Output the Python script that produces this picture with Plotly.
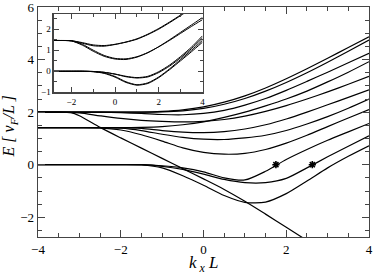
import plotly.graph_objects as go

# ---------------- main panel data ----------------
K = [-4, -3.5, -3, -2.5, -2, -1.5, -1, -0.5, 0, 0.5, 1, 1.5, 2, 2.5, 3, 3.5, 4]

a1 = [0, 0, 0, 0, 0, 0, -0.04, -0.12, -0.27, -0.50, -0.58, -0.25, 0.20, 0.58, 0.93, 1.25, 1.57]
a2 = [0, 0, 0, 0, 0, 0, -0.06, -0.18, -0.36, -0.56, -0.68, -0.68, -0.52, -0.12, 0.30, 0.70, 1.10]
a3 = [0, 0, 0, 0, 0, -0.01, -0.12, -0.42, -0.78, -1.17, -1.43, -1.42, -1.10, -0.62, -0.12, 0.32, 0.72]
b1 = [1.41, 1.41, 1.41, 1.40, 1.32, 1.14, 0.90, 0.64, 0.47, 0.40, 0.43, 0.58, 0.82, 1.12, 1.45, 1.78, 2.10]
b2 = [1.41, 1.41, 1.41, 1.41, 1.39, 1.30, 1.16, 1.04, 0.97, 0.96, 1.02, 1.12, 1.30, 1.55, 1.83, 2.15, 2.50]
b3 = [1.41, 1.41, 1.41, 1.41, 1.41, 1.38, 1.30, 1.24, 1.22, 1.26, 1.36, 1.52, 1.74, 2.00, 2.28, 2.56, 2.85]
b4 = [1.41, 1.41, 1.41, 1.41, 1.41, 1.42, 1.45, 1.52, 1.63, 1.80, 2.00, 2.24, 2.50, 2.80, 3.15, 3.52, 3.92]
c1 = [2.00, 2.00, 1.97, 1.86, 1.76, 1.69, 1.65, 1.63, 1.65, 1.72, 1.85, 2.03, 2.25, 2.50, 2.77, 3.06, 3.36]
c2 = [2.00, 2.00, 2.00, 2.00, 1.98, 1.95, 1.91, 1.90, 1.95, 2.07, 2.27, 2.52, 2.83, 3.17, 3.52, 3.88, 4.24]
c3 = [2.00, 2.00, 2.00, 2.00, 2.00, 2.00, 2.01, 2.05, 2.14, 2.30, 2.52, 2.80, 3.13, 3.50, 3.90, 4.32, 4.74]
c4 = [2.00, 2.00, 2.00, 2.00, 2.00, 2.00, 2.03, 2.09, 2.20, 2.38, 2.62, 2.92, 3.27, 3.65, 4.05, 4.46, 4.87]

edge_k = [-4, -3.5, -3.2, -3, -2.5, -2, -1.5, -1, -0.5, 0, 0.5, 1, 1.5, 2, 2.5]
edge_E = [2.00, 2.00, 1.98, 1.86, 1.42, 1.02, 0.63, 0.24, -0.15, -0.54, -0.94, -1.39, -1.88, -2.38, -2.88]

star_k = [1.75, 2.63]
star_E = [0.0, 0.0]

# ---------------- inset data ----------------
IK = [-2.8, -2.5, -2, -1.5, -1, -0.5, 0, 0.5, 1, 1.5, 2, 2.5, 3, 3.5, 4]
i1a = [1.46, 1.46, 1.45, 1.33, 1.21, 1.19, 1.27, 1.38, 1.52, 1.74, 2.00, 2.31, 2.64, 2.98, 3.30]
i1b = [1.46, 1.46, 1.45, 1.36, 1.25, 1.22, 1.28, 1.39, 1.54, 1.76, 2.03, 2.34, 2.67, 3.00, 3.33]
i2a = [1.46, 1.46, 1.44, 1.24, 0.95, 0.71, 0.58, 0.56, 0.67, 0.88, 1.17, 1.50, 1.85, 2.20, 2.55]
i2b = [1.46, 1.46, 1.44, 1.28, 1.00, 0.75, 0.61, 0.59, 0.69, 0.89, 1.16, 1.47, 1.80, 2.13, 2.45]
i3a = [0, 0, 0, 0, -0.01, -0.05, -0.13, -0.24, -0.30, -0.24, -0.02, 0.30, 0.70, 1.15, 1.68]
i3b = [0, 0, 0, 0, -0.01, -0.05, -0.14, -0.26, -0.32, -0.27, -0.06, 0.25, 0.64, 1.08, 1.58]
i4a = [0, 0, 0, 0, -0.02, -0.08, -0.25, -0.50, -0.64, -0.55, -0.27, 0.12, 0.56, 1.00, 1.47]
i4b = [0, 0, 0, 0, -0.02, -0.10, -0.28, -0.53, -0.66, -0.58, -0.30, 0.08, 0.50, 0.93, 1.38]

main_curves = [a1, a2, a3, b1, b2, b3, b4, c1, c2, c3, c4]
inset_curves = [i1a, i1b, i2a, i2b, i3a, i3b, i4a, i4b]

LINE = dict(color="black", width=1.2, shape="spline", smoothing=0.7)

fig = go.Figure()
for c in main_curves:
    fig.add_trace(go.Scatter(x=K, y=c, mode="lines", line=LINE, xaxis="x", yaxis="y", showlegend=False, hoverinfo="skip"))
fig.add_trace(go.Scatter(x=edge_k, y=edge_E, mode="lines", line=LINE, xaxis="x", yaxis="y", showlegend=False, hoverinfo="skip"))
fig.add_trace(go.Scatter(x=star_k, y=star_E, mode="markers",
                         marker=dict(symbol="asterisk", size=6, color="black", line=dict(width=1.6, color="black")),
                         xaxis="x", yaxis="y", showlegend=False, hoverinfo="skip"))
for c in inset_curves:
    fig.add_trace(go.Scatter(x=IK, y=c, mode="lines", line=dict(color="black", width=1.0, shape="spline", smoothing=0.7),
                             xaxis="x2", yaxis="y2", showlegend=False, hoverinfo="skip"))

FONT = "Liberation Serif, Times New Roman, serif"
axis_common = dict(showgrid=False, zeroline=False, showline=True, linecolor="#444", linewidth=1.4,
                   ticks="inside", tickcolor="#444", mirror="allticks", automargin=False,
                   ticklabeloverflow="allow")

fig.update_layout(
    width=374, height=277,
    margin=dict(l=38, r=5, t=7, b=40, autoexpand=False),
    paper_bgcolor="white", plot_bgcolor="white",
    font=dict(family=FONT, color="black"),
    xaxis=dict(domain=[0, 1], range=[-4, 4], tick0=-4, dtick=2, ticklen=7, tickwidth=1.2,
               minor=dict(dtick=0.5, ticklen=4, ticks="inside", tickcolor="#444", tickwidth=1),
               tickfont=dict(size=13, family=FONT), **axis_common),
    yaxis=dict(domain=[0, 1], range=[-2.75, 6], tick0=0, dtick=2, ticklen=7, tickwidth=1.2,
               minor=dict(dtick=0.5, ticklen=4, ticks="inside", tickcolor="#444", tickwidth=1),
               tickfont=dict(size=13, family=FONT), **axis_common),
    xaxis2=dict(domain=[0.048, 0.497], anchor="y2", range=[-2.8, 4], tick0=0, dtick=2, ticklen=5, tickwidth=1,
                minor=dict(dtick=1, ticklen=3, ticks="inside", tickcolor="#444"),
                tickfont=dict(size=9, family=FONT), **axis_common),
    yaxis2=dict(domain=[0.629, 0.968], anchor="x2", range=[-1, 2.7], tick0=0, dtick=1, ticklen=5, tickwidth=1,
                minor=dict(dtick=0.5, ticklen=3, ticks="inside", tickcolor="#444"),
                tickfont=dict(size=9, family=FONT), **axis_common),
    annotations=[
        dict(text="<i>k<sub> x</sub> L</i>", xref="paper", yref="paper", x=0.5, y=-0.118,
             xanchor="center", yanchor="middle", showarrow=False, font=dict(size=17, family=FONT)),
        dict(text="<i>E [ v<sub>F</sub>/L ]</i>", xref="paper", yref="paper", x=-0.085, y=0.48,
             xanchor="center", yanchor="middle", textangle=-90, showarrow=False, font=dict(size=16, family=FONT)),
    ],
)

fig.write_html("out.html", config={"displayModeBar": False, "staticPlot": True},
               post_script="document.body.style.margin='0';document.body.style.overflow='hidden';")
